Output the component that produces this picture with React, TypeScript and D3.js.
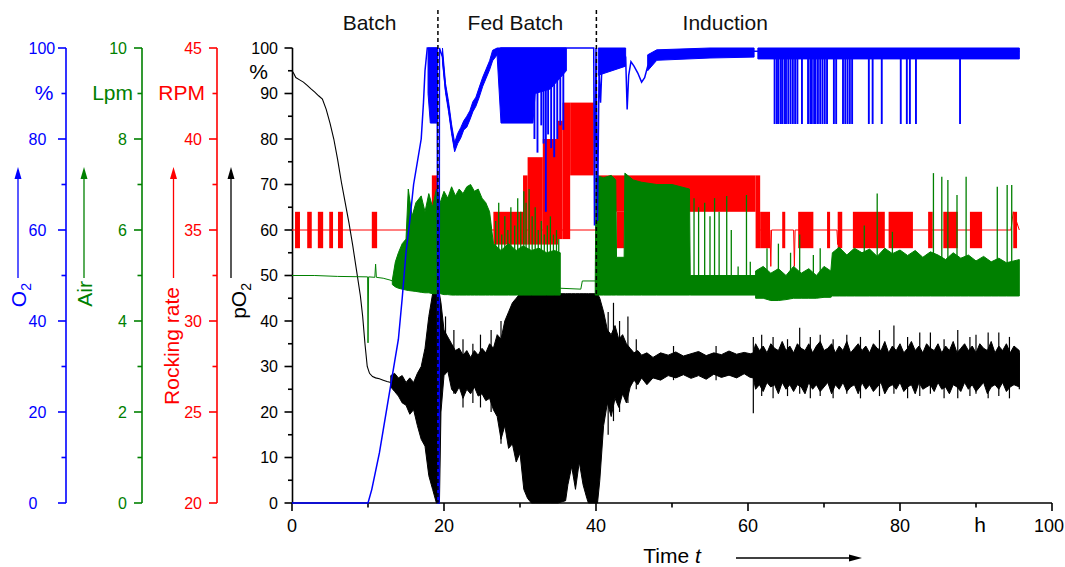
import React from "react";
import * as d3 from "d3";

// ---------------- data ----------------
const timeTicks = [0, 20, 40, 60, 80, 100];
const timeMinor = [10, 30, 50, 70, 90];
const pO2Major = [0, 10, 20, 30, 40, 50, 60, 70, 80, 90, 100];
const pO2Minor = [5, 15, 25, 35, 45, 55, 65, 75, 85, 95];
const o2Major = [0, 20, 40, 60, 80, 100];
const o2Minor = [10, 30, 50, 70, 90];
const airMajor = [0, 2, 4, 6, 8, 10];
const airMinor = [1, 3, 5, 7, 9];
const rpmMajor = [20, 25, 30, 35, 40, 45];
const rpmMinor = [22.5, 27.5, 32.5, 37.5, 42.5];

const phaseNames = ["Batch", "Fed Batch", "Induction"];
const phaseCenters = [10.2, 29.4, 57];
const phaseBounds = [19.2, 40.05];

// pO2 (%), smooth part [t, value]
const pO2Line: [number, number][] = [
  [0, 95], [0.2, 94.5], [0.5, 93.5], [1, 93], [1.5, 92.5], [2, 91.8], [2.5, 91], [3, 90.3],
  [3.5, 89.5], [4, 88.8], [4.5, 86.5], [5, 83.5], [5.5, 80], [6, 75.5], [6.5, 70.5], [7, 66],
  [7.5, 61.5], [8, 56.5], [8.5, 51], [9, 45.5], [9.3, 41], [9.6, 35], [9.9, 30], [10.2, 28.5],
  [10.6, 27.8], [11, 27.5], [11.5, 27.3], [12, 27], [12.5, 26.7], [13, 26.5],
];
// pO2 noisy envelope [t, low, high]
const pO2Band: [number, number, number][] = [
  [13, 25.5, 28], [13.5, 24.5, 28.5], [14, 23.5, 27.5], [14.5, 22, 28], [15, 21.5, 26.5], [15.5, 19.5, 27.5],
  [16, 20.5, 26.5], [16.5, 17, 28.5], [17, 14, 30], [17.5, 12.5, 34], [18, 6, 41], [18.5, 3, 46],
  [19, 0, 46], [19.4, 0, 46], [19.6, 20, 44], [20, 28, 38], [20.5, 29, 36.5], [21, 25, 35],
  [21.5, 24, 33.5], [22, 25.5, 34], [22.5, 23, 32.5], [23, 25, 33.5], [23.5, 24, 32], [24, 25.5, 33.5],
  [24.5, 23.5, 32.5], [25, 24, 34], [25.5, 22.5, 33], [26, 23, 35], [26.5, 20.5, 34], [27, 19, 37],
  [27.5, 14, 36], [28, 17, 40], [28.5, 12, 42], [29, 13, 44], [29.5, 9, 45], [30, 11, 46], [30.5, 3, 46],
  [31, 1, 46], [31.5, 0, 46], [32, 0, 46], [33, 0, 46], [34, 0, 46], [35, 0, 46], [36, 0.5, 46],
  [36.3, 4, 46], [36.8, 8, 46], [37.3, 3, 46], [37.8, 9, 46], [38.3, 4, 46], [38.8, 1, 46], [39, 0, 46],
  [40.2, 0, 46], [40.5, 5, 45], [41, 17, 42], [41.5, 22, 38], [42, 19, 37], [42.5, 23, 39], [43, 21, 36],
  [43.5, 24, 37], [44, 22, 35], [44.5, 25.5, 34], [45, 27, 33], [45.5, 26, 33.5], [46, 27.5, 32.5],
  [46.7, 26, 33], [47.5, 27.5, 32], [48.5, 27, 33], [49.5, 28, 32.5], [50.5, 27.5, 33.2], [51.5, 28.2, 32.3],
  [52.5, 27.4, 32.8], [53.5, 28, 33.3], [54.5, 27.2, 32.4], [55.5, 28.3, 33], [56.5, 27.6, 32.6],
  [57.5, 28.1, 33.4], [58.5, 27.5, 32.7], [59.5, 28.4, 33.1], [60.3, 27.6, 32.8], [60.7, 27.5, 33],
  [61, 25, 35], [61.5, 26, 33.5], [62, 24.5, 34.5], [62.5, 26.5, 33], [63, 25.5, 35], [63.5, 26, 34],
  [64, 24, 33.5], [64.5, 26.5, 35.5], [65, 25, 33.5], [65.5, 26, 34.5], [66, 24.5, 33], [66.5, 26, 35],
  [67, 25.5, 34], [67.5, 24, 33.5], [68, 26.5, 35], [68.5, 25, 33], [69, 26, 34.5], [69.5, 24.5, 35.5],
  [70, 25.5, 33.5], [70.5, 26.5, 34], [71, 24, 35], [71.5, 26, 33], [72, 25, 34.5], [72.5, 26.5, 33.5],
  [73, 24.5, 35.5], [73.5, 25.5, 33], [74, 26, 34], [74.5, 24, 35], [75, 26.5, 33.5], [75.5, 25, 34.5],
  [76, 26, 33], [76.5, 24.5, 35], [77, 25.5, 34], [77.5, 26.5, 33.5], [78, 24, 35.5], [78.5, 25.5, 33],
  [79, 26, 34.5], [79.5, 25, 33.5], [80, 26.5, 35], [80.5, 24.5, 33], [81, 25.5, 34], [81.5, 26, 35.5],
  [82, 24, 33.5], [82.5, 26.5, 34.5], [83, 25, 33], [83.5, 25.5, 35], [84, 26, 34], [84.5, 24.5, 33.5],
  [85, 26.5, 35], [85.5, 25, 33], [86, 25.5, 34.5], [86.5, 24, 33.5], [87, 26, 35.5], [87.5, 25.5, 33],
  [88, 24.5, 34], [88.5, 26.5, 35], [89, 25, 33.5], [89.5, 26, 34.5], [90, 24.5, 33], [90.5, 25.5, 35],
  [91, 26.5, 34], [91.5, 24, 33.5], [92, 25.5, 35.5], [92.5, 26, 33], [93, 25, 34.5], [93.5, 26.5, 33.5],
  [94, 24.5, 35], [94.5, 25.5, 33], [95, 26, 34.5], [95.7, 25.5, 33.5],
];
// pO2 spikes [t, low, high]
const pO2Spikes: [number, number, number][] = [
  [20.2, 30, 41], [21.3, 24, 38], [22.5, 21, 36], [23.8, 22, 35], [24.8, 21, 37], [26.2, 20, 38],
  [27.5, 13, 40], [41.6, 15, 42], [42.3, 18, 44], [43.1, 20, 40], [44.2, 22, 41], [45.3, 25, 36],
  [50.2, 27, 34.5], [55.8, 27, 34.5], [60.7, 19.7, 36.5], [61.8, 23.5, 37], [63.3, 23, 36.5],
  [65.2, 23.5, 36], [66.8, 24, 38.5], [68.2, 23, 36.5], [69.5, 23.5, 37], [71.2, 23, 36], [73, 24, 37],
  [74.8, 23, 36.5], [77.3, 23.5, 38], [79.2, 24, 39], [81, 23, 36.5], [82.6, 23.5, 37.5], [84, 24, 37.5],
  [85.8, 23, 36], [87.6, 23, 38], [89.2, 23.5, 36.5], [90, 24, 37], [91.6, 23, 37.5], [93, 23.5, 37.5],
  [94.4, 23, 36.5], [95.7, 25, 33],
];

// O2 (%) main trace [t, value]
const o2Line: [number, number][] = [
  [0, 0], [10, 0], [10.5, 3], [11, 7], [11.5, 11], [12, 16], [12.5, 21], [13, 26], [13.5, 31], [14, 36],
  [14.5, 45], [15, 55], [15.5, 62], [16, 70], [16.5, 75], [17, 80], [17.3, 88], [17.5, 95], [17.8, 100],
  [19.1, 100], [19.2, 0], [19.35, 0], [19.4, 100], [19.8, 98], [20.2, 91], [20.6, 87], [21, 82],
  [21.4, 78], [21.8, 80], [22.2, 81], [22.6, 83], [23, 83.5], [23.4, 85], [23.8, 87], [24.2, 88],
  [24.6, 90], [25.1, 92.5], [25.5, 94], [26, 96], [26.4, 98], [27, 99.5], [27.5, 100], [39.7, 100],
  [39.8, 61], [40, 100], [40.2, 62], [40.4, 95], [40.6, 88], [40.8, 97], [41.2, 98], [41.6, 99],
  [42, 97], [42.5, 99], [43, 98.5], [43.5, 99], [43.9, 98], [44.1, 86.5], [44.3, 94], [44.6, 97],
  [45, 96], [45.5, 94.5], [46, 92.5], [46.4, 93.5], [46.8, 96], [47.2, 97], [47.6, 98], [48, 98.5],
  [50, 98.7], [52, 98.8], [55, 99], [58, 99.2], [60.8, 99.3], [61.3, 99.3], [95.7, 99.3],
];
const o2BandBatch: [number, number, number][] = [[17.9, 90, 100], [18.2, 83.5, 100], [19.1, 83.5, 100]];
const o2BandRise: [number, number, number][] = [
  [19.8, 97, 100], [20.2, 90.2, 92.2], [20.6, 86, 88.2], [21, 81.2, 83.2], [21.4, 77.2, 79.2], [21.8, 79, 81.2],
  [22.2, 80.2, 82.5], [22.6, 82, 84], [23, 82.6, 85], [23.4, 84.2, 86.2], [23.8, 86, 88.2], [24.2, 87.2, 89.2],
  [24.6, 89, 91.2], [25.1, 91.6, 93.6], [25.5, 93.2, 95.2], [26, 95.2, 97.2], [26.4, 97.2, 99.5], [27, 98.5, 100],
];
const o2BandFed: [number, number, number][] = [
  [27, 98, 100], [27.5, 83.5, 100], [31.7, 83.5, 100], [32, 90, 100], [34, 91, 100], [36.1, 95, 100],
];
const o2BandInd: [number, number, number][] = [[40.3, 94, 100], [43.9, 96, 100]];
const o2BandLate1: [number, number, number][] = [
  [46.8, 95, 98.5], [48, 97.3, 99.6], [55, 97.8, 100], [60.8, 98, 100],
];
const o2BandLate2: [number, number, number][] = [[61.3, 97.6, 100], [95.7, 97.6, 100]];
// O2 dips [t, low] (from 100 down)
const o2Spikes: [number, number][] = [
  [31.9, 80], [32.3, 77], [32.8, 83], [33.1, 79], [33.4, 64], [33.7, 81], [34.1, 78], [34.5, 76],
  [34.9, 80], [35.3, 83], [35.7, 82],
  [63.5, 83.3], [63.8, 83.3], [64.0, 83.3], [64.3, 83.3], [64.5, 83.3], [64.8, 83.3], [65.0, 83.3],
  [65.3, 83.3], [65.6, 83.3], [65.9, 83.3], [66.2, 83.3], [66.5, 83.3], [67.1, 83.3], [67.9, 83.3],
  [68.2, 83.3], [68.4, 83.3], [68.7, 83.3], [68.9, 83.3], [69.2, 83.3], [69.5, 83.3], [69.8, 83.3],
  [70.1, 83.3], [70.4, 83.3], [71.3, 83.3], [71.6, 83.3], [72.5, 83.3], [72.8, 83.3], [73.1, 83.3],
  [73.4, 83.3], [73.7, 83.3], [75.9, 83.3], [76.4, 83.3], [77.6, 83.3], [80.1, 83.3], [80.9, 83.3],
  [81.3, 83.3], [82.1, 83.3], [87.9, 83.3],
];

// Air (Lpm)
const airLine1: [number, number][] = [
  [0, 5.0], [3, 5.0], [6, 4.98], [9.95, 4.97], [10, 3.52], [10.08, 4.97], [10.9, 4.96], [11, 5.25],
  [11.1, 4.96], [12, 4.94], [12.9, 4.9], [13.2, 4.88],
];
const airLine2: [number, number][] = [[35.3, 4.72], [38.0, 4.7], [38.2, 4.88], [40, 4.88]];
const airBand1: [number, number, number][] = [
  [13.2, 4.8, 4.9], [13.6, 4.75, 5.3], [14, 4.72, 5.5], [14.5, 4.7, 5.7], [15, 4.68, 5.8],
  [15.3, 4.67, 6.9], [15.8, 4.66, 6.3], [16.3, 4.65, 6.6], [17, 4.63, 6.75], [17.5, 4.62, 6.4],
  [18, 4.62, 6.8], [18.5, 4.6, 6.5], [19, 4.6, 6.9], [19.5, 4.6, 6.6], [20, 4.58, 6.85], [20.5, 4.58, 6.7],
  [21, 4.57, 6.95], [21.5, 4.57, 6.75], [22, 4.57, 6.9], [22.5, 4.57, 6.8], [23, 4.57, 6.95],
  [23.5, 4.57, 7.0], [24, 4.57, 6.85], [24.5, 4.57, 6.9], [25, 4.57, 6.7], [25.5, 4.57, 6.6],
  [26, 4.57, 6.4], [26.5, 4.57, 5.7], [27.5, 4.57, 5.55], [28.5, 4.57, 5.7], [29.5, 4.57, 5.55],
  [30.4, 4.57, 5.65], [31.5, 4.57, 5.55], [32.5, 4.57, 5.6], [33.5, 4.57, 5.5], [34.5, 4.57, 5.55],
  [35.3, 4.57, 5.5],
];
const airSpikesFed: [number, number][] = [
  [26.8, 6.2], [27.2, 6.6], [27.6, 5.9], [28, 6.3], [28.4, 6.0], [28.8, 6.5], [29.3, 6.1], [29.7, 6.7],
  [30.1, 6.4], [30.5, 6.85], [30.8, 6.6], [31.2, 6.9], [31.6, 6.3], [32, 6.5], [32.4, 6.0], [32.8, 6.2],
  [33.2, 5.9], [33.6, 6.1], [34, 6.3], [34.4, 5.9], [34.8, 6.0], [35.1, 5.8],
];
const airBand2: [number, number, number][] = [
  [39.9, 4.57, 4.9], [40, 4.57, 7.2], [41, 4.57, 7.15], [42, 4.57, 7.2], [42.6, 4.57, 7.1],
  [42.7, 4.57, 5.4], [43.7, 4.57, 5.4], [43.8, 4.57, 7.25], [44.9, 4.57, 7.1], [46, 4.57, 7.05],
  [48, 4.57, 7.0], [50, 4.57, 7.0], [52.3, 4.57, 6.9], [52.4, 4.57, 5.0], [61, 4.57, 5.0],
];
const airSpikesInd: [number, number][] = [
  [52.9, 6.7], [53.5, 6.5], [54.3, 6.6], [55, 6.3], [55.6, 6.7], [56.2, 6.4], [57.2, 6.75],
  [57.8, 6.0], [58.7, 5.2], [59.8, 6.77], [60.3, 5.3],
];
const airBand3: [number, number, number][] = [
  [61, 4.5, 5.1], [62, 4.5, 5.2], [63, 4.45, 5.05], [64, 4.45, 5.15], [65, 4.47, 5.0], [66, 4.5, 5.2],
  [67, 4.5, 5.05], [68, 4.5, 5.15], [69, 4.5, 5.0], [70, 4.52, 5.2], [70.9, 4.52, 5.1], [71.1, 4.55, 5.5],
  [72, 4.55, 5.62], [73, 4.55, 5.45], [74, 4.55, 5.6], [75, 4.55, 5.5], [76, 4.55, 5.58], [77, 4.55, 5.42],
  [78, 4.55, 5.6], [79, 4.55, 5.48], [80, 4.55, 5.56], [81, 4.55, 5.44], [82, 4.55, 5.55], [83, 4.55, 5.4],
  [84, 4.55, 5.52], [85, 4.55, 5.45], [86, 4.55, 5.35], [87, 4.55, 5.5], [88, 4.55, 5.38], [89, 4.55, 5.45],
  [90, 4.55, 5.32], [91, 4.55, 5.42], [92, 4.55, 5.3], [93, 4.55, 5.38], [94, 4.55, 5.28], [95.7, 4.55, 5.35],
];
const airSpikesLate: [number, number][] = [
  [62.5, 5.6], [64, 5.7], [65.6, 5.5], [66.8, 5.9], [68.6, 5.45], [69.5, 5.6], [72.1, 5.56], [75.3, 6.1],
  [77, 6.8], [79, 5.96], [84.4, 7.25], [85.5, 7.17], [86.3, 7.1], [87.5, 6.77], [88.7, 7.17],
  [92.8, 6.95], [94.1, 6.99], [94.7, 6.99],
];

// Rocking rate (RPM)
const rockLine1: [number, number][] = [[0, 35], [40.2, 35]];
const rockLine2: [number, number][] = [
  [61.6, 35], [62.9, 35], [63, 33], [63.1, 35], [66, 35], [66.1, 33], [66.2, 35], [71.7, 35],
  [71.8, 34.2], [71.9, 35], [94.6, 35], [94.9, 36], [95.7, 35],
];
// rapid oscillation blocks [tStart, tEnd, low, high]
const rockBlocks: [number, number, number, number][] = [
  [0.4, 1.05, 34, 36], [2.0, 2.6, 34, 36], [3.4, 4.1, 34, 36], [4.9, 5.4, 34, 36], [6.05, 6.7, 34, 36],
  [10.5, 11.2, 34, 36], [18.4, 19.25, 35, 38], [26.5, 30.4, 34.2, 36], [30.4, 31.0, 34.2, 38],
  [31.0, 33.0, 34.2, 39], [33.0, 35.0, 34.2, 40], [35.0, 35.6, 34.5, 41], [35.6, 36.6, 34.5, 42],
  [36.6, 39.7, 38, 42], [40.2, 61, 36, 38], [42.7, 43.7, 34, 36], [61, 61.6, 34, 38],
  [61.6, 62.9, 34, 36], [64.5, 64.9, 34, 36], [66.6, 68.6, 34, 36], [70.4, 70.8, 34, 36],
  [71.8, 72.4, 34, 36], [73.8, 78, 34, 36], [78.5, 81.7, 34, 36], [83.7, 84.3, 34, 36],
  [85.7, 87.6, 34, 36], [89.2, 90.8, 34, 36], [94.9, 95.4, 34, 36],
];

// ---------------- scales ----------------
const x = d3.scaleLinear().domain([0, 100]).range([292, 1052]);
const yP = d3.scaleLinear().domain([0, 100]).range([503, 48]);
const yO2 = d3.scaleLinear().domain([0, 100]).range([503, 48]);
const yAir = d3.scaleLinear().domain([0, 10]).range([503, 48]);
const yRpm = d3.scaleLinear().domain([20, 45]).range([503, 48]);

const FONT = "'Liberation Sans', Arial, Helvetica, sans-serif";
const BLUE = "#0000ff";
const GREEN = "#008000";
const RED = "#ff0000";

type Sc = d3.ScaleLinear<number, number>;
const mkLine = (ys: Sc) => d3.line<[number, number]>().x((d) => x(d[0])).y((d) => ys(d[1]));
const mkArea = (ys: Sc) =>
  d3.area<[number, number, number]>().x((d) => x(d[0])).y0((d) => ys(d[1])).y1((d) => ys(d[2]));

function Axis({ ax, scale, major, minor, color, labelX, anchor }: {
  ax: number; scale: Sc; major: number[]; minor: number[]; color: string; labelX: number; anchor: string;
}) {
  const [r0, r1] = scale.range();
  return (
    <g>
      <line x1={ax} x2={ax} y1={r1} y2={r0} stroke={color} strokeWidth={1.6} />
      {major.map((v) => (
        <g key={"M" + v}>
          <line x1={ax - 8} x2={ax} y1={scale(v)} y2={scale(v)} stroke={color} strokeWidth={1.6} />
          <text x={labelX} y={scale(v)} dy="0.36em" fill={color} fontSize={16} textAnchor={anchor} fontFamily={FONT}>
            {v}
          </text>
        </g>
      ))}
      {minor.map((v) => (
        <line key={"m" + v} x1={ax - 4.5} x2={ax} y1={scale(v)} y2={scale(v)} stroke={color} strokeWidth={1.6} />
      ))}
    </g>
  );
}

function VArrow({ ax, color }: { ax: number; color: string }) {
  return (
    <g>
      <line x1={ax} x2={ax} y1={278} y2={176} stroke={color} strokeWidth={1.3} />
      <path d={`M${ax},167 L${ax - 3.5},179 L${ax + 3.5},179 Z`} fill={color} />
    </g>
  );
}

export default function App() {
  const lP = mkLine(yP), aP = mkArea(yP);
  const lO = mkLine(yO2), aO = mkArea(yO2);
  const lA = mkLine(yAir), aA = mkArea(yAir);
  const lR = mkLine(yRpm);

  return (
    <svg width={1065} height={567} style={{ position: "absolute", left: 0, top: 0, background: "#fff" }} fontFamily={FONT}>
      {/* left axes */}
      <Axis ax={66} scale={yO2} major={o2Major} minor={o2Minor} color={BLUE} labelX={28.5} anchor="start" />
      <Axis ax={142} scale={yAir} major={airMajor} minor={airMinor} color={GREEN} labelX={127} anchor="end" />
      <Axis ax={217} scale={yRpm} major={rpmMajor} minor={rpmMinor} color={RED} labelX={202} anchor="end" />
      <Axis ax={292.5} scale={yP} major={pO2Major} minor={pO2Minor} color="#000" labelX={278} anchor="end" />

      {/* units */}
      <text x={44} y={100} fill={BLUE} fontSize={21} textAnchor="middle">%</text>
      <text x={133} y={100} fill={GREEN} fontSize={21} textAnchor="end">Lpm</text>
      <text x={205} y={100} fill={RED} fontSize={21} textAnchor="end">RPM</text>
      <text x={258.5} y={79} fill="#000" fontSize={21} textAnchor="middle">%</text>

      {/* arrows + titles */}
      <VArrow ax={18} color={BLUE} />
      <VArrow ax={84} color={GREEN} />
      <VArrow ax={173.5} color={RED} />
      <VArrow ax={231} color="#000" />
      <text transform="translate(26,283) rotate(-90)" fill={BLUE} fontSize={21} textAnchor="end">
        O<tspan fontSize={14} dy={5}>2</tspan>
      </text>
      <text transform="translate(91.5,281) rotate(-90)" fill={GREEN} fontSize={21} textAnchor="end">Air</text>
      <text transform="translate(179,287) rotate(-90)" fill={RED} fontSize={21} textAnchor="end">Rocking rate</text>
      <text transform="translate(246,283) rotate(-90)" fill="#000" fontSize={21} textAnchor="end">
        pO<tspan fontSize={14} dy={5}>2</tspan>
      </text>

      {/* x axis */}
      <line x1={x(0)} x2={x(100)} y1={503} y2={503} stroke="#000" strokeWidth={1.6} />
      {timeTicks.map((t) => (
        <g key={"xt" + t}>
          <line x1={x(t)} x2={x(t)} y1={503} y2={511} stroke="#000" strokeWidth={1.6} />
          <text x={t === 100 ? x(t) - 3 : x(t)} y={532} fontSize={18} textAnchor="middle" fill="#000">{t}</text>
        </g>
      ))}
      {timeMinor.map((t) => (
        <line key={"xm" + t} x1={x(t)} x2={x(t)} y1={503} y2={507.5} stroke="#000" strokeWidth={1.6} />
      ))}
      <text x={980} y={532} fontSize={21} textAnchor="middle">h</text>
      <text x={672} y={563} fontSize={21} textAnchor="middle">
        Time <tspan fontStyle="italic">t</tspan>
      </text>
      <line x1={736} x2={850} y1={558} y2={558} stroke="#000" strokeWidth={1.3} />
      <path d="M862,558 L849,554.5 L849,561.5 Z" fill="#000" />

      {/* phase labels */}
      {phaseNames.map((n, i) => (
        <text key={n} x={x(phaseCenters[i])} y={30} fontSize={21} textAnchor="middle" fill="#111">{n}</text>
      ))}

      {/* rocking rate (red) */}
      <g>
        <path d={lR(rockLine1) || ""} fill="none" stroke={RED} strokeWidth={1} />
        <path d={lR(rockLine2) || ""} fill="none" stroke={RED} strokeWidth={1} />
        {rockBlocks.map((b, i) => (
          <rect key={"rb" + i} x={x(b[0])} width={x(b[1]) - x(b[0])} y={yRpm(b[3])}
            height={yRpm(b[2]) - yRpm(b[3])} fill={RED} />
        ))}
      </g>

      {/* pO2 (black) */}
      <g>
        <path d={lP(pO2Line) || ""} fill="none" stroke="#000" strokeWidth={1.1} />
        <path d={aP(pO2Band) || ""} fill="#000" stroke="#000" strokeWidth={1} />
        {pO2Spikes.map((s, i) => (
          <line key={"ps" + i} x1={x(s[0])} x2={x(s[0])} y1={yP(s[1])} y2={yP(s[2])} stroke="#000" strokeWidth={1.2} />
        ))}
      </g>

      {/* air (green) */}
      <g>
        <path d={lA(airLine1) || ""} fill="none" stroke={GREEN} strokeWidth={1} />
        <path d={lA(airLine2) || ""} fill="none" stroke={GREEN} strokeWidth={1} />
        {[airBand1, airBand2, airBand3].map((b, i) => (
          <path key={"ab" + i} d={aA(b) || ""} fill={GREEN} stroke={GREEN} strokeWidth={1} />
        ))}
        {[...airSpikesFed, ...airSpikesInd, ...airSpikesLate].map((s, i) => (
          <line key={"as" + i} x1={x(s[0])} x2={x(s[0])} y1={yAir(4.9)} y2={yAir(s[1])} stroke={GREEN} strokeWidth={1.3} />
        ))}
      </g>

      {/* O2 (blue) */}
      <g>
        {[o2BandBatch, o2BandRise, o2BandFed, o2BandInd, o2BandLate1, o2BandLate2].map((b, i) => (
          <path key={"ob" + i} d={aO(b) || ""} fill={BLUE} stroke={BLUE} strokeWidth={1} />
        ))}
        <path d={lO(o2Line) || ""} fill="none" stroke={BLUE} strokeWidth={1.5} />
        {o2Spikes.map((s, i) => (
          <line key={"os" + i} x1={x(s[0])} x2={x(s[0])} y1={yO2(99)} y2={yO2(s[1])} stroke={BLUE} strokeWidth={1.9} />
        ))}
      </g>

      {/* phase boundaries */}
      {phaseBounds.map((t) => (
        <line key={"pb" + t} x1={x(t)} x2={x(t)} y1={10} y2={503} stroke="#000" strokeWidth={1.5} strokeDasharray="4,3" />
      ))}
    </svg>
  );
}
